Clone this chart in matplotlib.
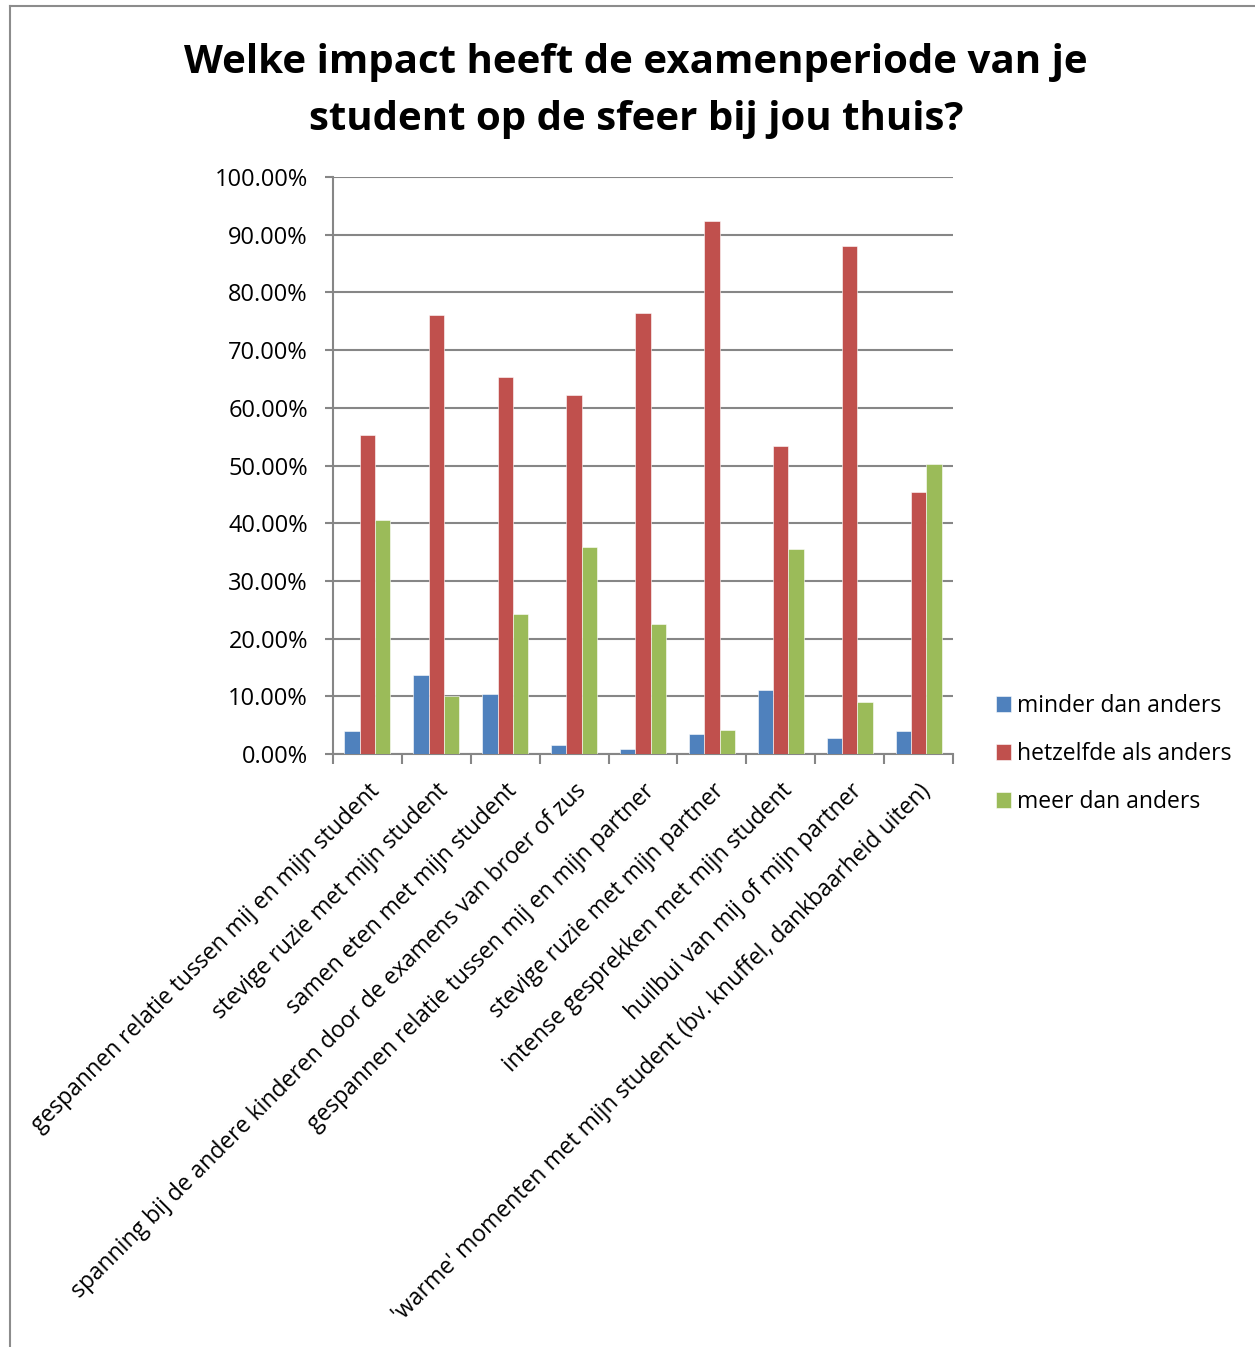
import numpy as np
import matplotlib
matplotlib.use("Agg")
import matplotlib.pyplot as plt
from matplotlib.lines import Line2D
from matplotlib.ticker import FuncFormatter, FixedLocator

plt.rcParams.update({"font.family": ["Open Sans", "DejaVu Sans"], "font.size": 14})

categories = [
    "gespannen relatie tussen mij en mijn student",
    "stevige ruzie met mijn student",
    "samen eten met mijn student",
    "spanning bij de andere kinderen door de examens van broer of zus",
    "gespannen relatie tussen mij en mijn partner",
    "stevige ruzie met mijn partner",
    "intense gesprekken met mijn student",
    "huilbui van mij of mijn partner",
    "'warme' momenten met mijn student (bv. knuffel, dankbaarheid uiten)",
]
minder = [4.0, 13.7, 10.4, 1.6, 0.9, 3.5, 11.1, 2.8, 4.0]
hetzelfde = [55.3, 76.1, 65.3, 62.2, 76.4, 92.4, 53.4, 88.1, 45.4]
meer = [40.6, 10.0, 24.3, 35.9, 22.5, 4.2, 35.5, 9.0, 50.3]
series_names = ["minder dan anders", "hetzelfde als anders", "meer dan anders"]
colors = ["#4F81BD", "#C0504D", "#9BBB59"]

fig = plt.figure(figsize=(12.55, 13.47), dpi=100)
ax = fig.add_axes([0.2653, 0.4402, 0.4941, 0.4284])

# outer chart frame (top and left edges visible)
frame_kw = dict(transform=fig.transFigure, color="#8c8c8c", linewidth=1.5)
fig.lines.append(Line2D([0.008, 1.0], [0.9955, 0.9955], **frame_kw))
fig.lines.append(Line2D([0.008, 0.008], [0.0, 0.9955], **frame_kw))

x = np.arange(len(categories))
w = 0.222
for i, (vals, name, c) in enumerate(zip([minder, hetzelfde, meer], series_names, colors)):
    ax.bar(x + (i - 1) * w, vals, w, color=c, label=name, zorder=3,
           edgecolor="white", linewidth=0.4)

ax.set_xlim(-0.5, len(categories) - 0.5)
ax.set_ylim(0, 100)
ax.set_yticks(np.arange(0, 101, 10))
ax.yaxis.set_major_formatter(FuncFormatter(lambda v, p: f"{v:.2f}%"))
ax.grid(axis="y", color="#868686", linewidth=1.5, zorder=0)

ax.xaxis.set_major_locator(FixedLocator(np.arange(-0.5, len(categories), 1.0)))
ax.xaxis.set_major_formatter(FuncFormatter(lambda v, p: ""))
ax.xaxis.set_minor_locator(FixedLocator(x))
ax.set_xticklabels(categories, minor=True, rotation=45, ha="right", va="top",
                   rotation_mode="anchor", fontsize=16.5)
ax.tick_params(axis="x", which="minor", length=0, pad=18)
ax.tick_params(axis="x", which="major", length=7, color="#868686", width=1.5)
ax.tick_params(axis="y", length=6, color="#868686", width=1.5, labelsize=17, pad=12)

for s in ["top", "right"]:
    ax.spines[s].set_visible(False)
for s in ["left", "bottom"]:
    ax.spines[s].set_color("#868686")
    ax.spines[s].set_linewidth(1.5)

fig.text(0.507, 0.9325, "Welke impact heeft de examenperiode van je\nstudent op de sfeer bij jou thuis?",
         ha="center", va="center", fontsize=29, fontweight="bold", linespacing=1.62)

ax.legend(loc="center left", bbox_to_anchor=(1.055, 0.0), frameon=False, fontsize=16.5,
          handlelength=0.65, handleheight=0.65, handletextpad=0.25, labelspacing=1.05,
          borderaxespad=0)

fig.savefig("out.png", dpi=100)
